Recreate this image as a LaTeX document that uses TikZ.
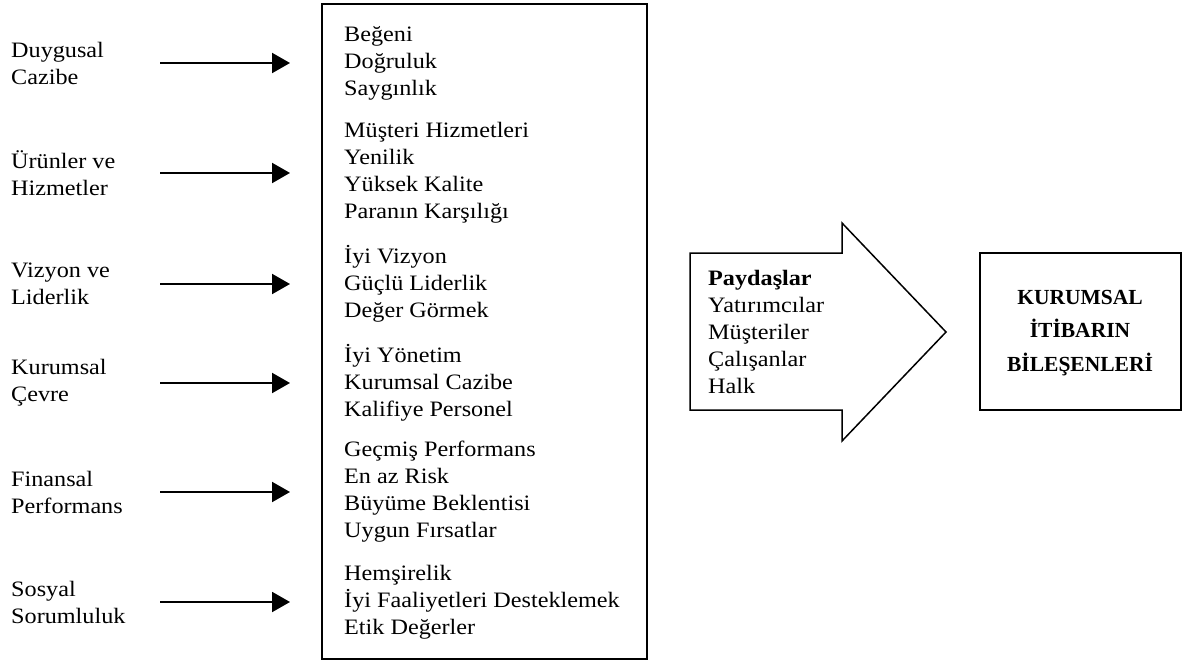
\documentclass[tikz,border=0pt]{standalone}
\usepackage{fontspec}
\setmainfont[FakeStretch=1.1]{Liberation Serif}
\newfontfamily\plainserif{Liberation Serif}
\usetikzlibrary{arrows.meta}
\tikzset{
  txt/.style={font=\fontsize{22}{27}\selectfont, align=left, inner sep=0pt, anchor=west},
  arr/.style={line width=2pt, -{Triangle[length=18pt,width=20pt]}},
  frame/.style={draw, line width=1.5pt},
  title/.style={font=\plainserif\bfseries\fontsize{21.5}{33.5}\selectfont, align=center, inner sep=0pt}
}
\begin{document}
\begin{tikzpicture}[x=1pt,y=-1pt]
\useasboundingbox (0,0) rectangle (1182,661);
% main box
\node[frame, minimum width=325pt, minimum height=655pt, inner sep=0pt] (box) at (484.5,331.5) {};
% left labels
\node[txt] (l1) at (11,63) {Duygusal\\Cazibe};
\node[txt] (l2) at (11,173) {Ürünler ve\\Hizmetler};
\node[txt] (l3) at (11,284) {Vizyon ve\\Liderlik};
\node[txt] (l4) at (11,383) {Kurumsal\\Çevre};
\node[txt] (l5) at (11,492) {Finansal\\Performans};
\node[txt] (l6) at (11,602) {Sosyal\\Sorumluluk};
% groups
\node[txt] (g1) at (344,63) {Beğeni\\Doğruluk\\Saygınlık};
\node[txt] (g2) at (344,173) {Müşteri Hizmetleri\\Yenilik\\Yüksek Kalite\\Paranın Karşılığı};
\node[txt] (g3) at (344,284) {İyi Vizyon\\Güçlü Liderlik\\Değer Görmek};
\node[txt] (g4) at (344,383) {İyi Yönetim\\Kurumsal Cazibe\\Kalifiye Personel};
\node[txt] (g5) at (344,492) {Geçmiş Performans\\En az Risk\\Büyüme Beklentisi\\Uygun Fırsatlar};
\node[txt] (g6) at (344,602) {Hemşirelik\\İyi Faaliyetleri Desteklemek\\Etik Değerler};
% arrows
\foreach \i/\y in {1/63,2/173,3/284,4/383,5/492,6/602}{
  \coordinate (s\i) at (160,\y);
  \coordinate (e\i) at (290,\y);
  \draw[arr] (s\i) -- (e\i);
}
% big arrow
\draw[line width=1.5pt, line join=miter] (690,253) -- (842,253) -- (842,223) -- (946,332) -- (842,441) -- (842,410) -- (690,410) -- cycle;
\node[txt] (pd) at (708,332) {\textbf{Paydaşlar}\\Yatırımcılar\\Müşteriler\\Çalışanlar\\Halk};
% right box
\node[frame, minimum width=201pt, minimum height=157pt, inner sep=0pt] (rb) at (1080.5,331.5) {};
\node[title] (rt) at (1080,333) {KURUMSAL\\İTİBARIN\\BİLEŞENLERİ};
\end{tikzpicture}
\end{document}
